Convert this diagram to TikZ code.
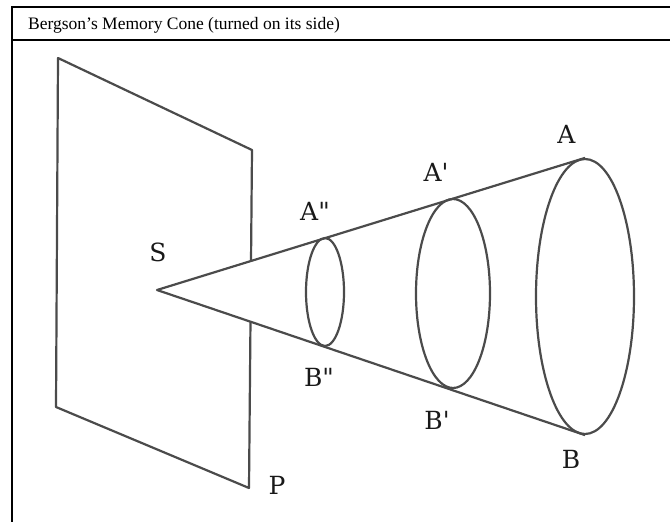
\documentclass[tikz,border=0pt]{standalone}
\usepackage{fontspec}
\setmainfont{Liberation Serif}
\newfontfamily\lblfont{DejaVu Serif}
\usetikzlibrary{shapes.geometric}
\definecolor{ink}{RGB}{75,75,75}

\begin{document}
\begin{tikzpicture}[x=1pt, y=-1pt,
    frm/.style={line width=2pt, black},
    edge/.style={line width=2.2pt, ink, line join=round},
    rim/.style={ellipse, draw=ink, line width=2.2pt, inner sep=0pt},
    lbl/.style={font=\lblfont\fontsize{25}{25}\selectfont, inner sep=0pt, text=black!90}]

    \useasboundingbox (0,0) rectangle (670,522);

    % table frame
    \coordinate (fTL) at (12,7);
    \coordinate (fTR) at (670,7);
    \coordinate (fML) at (12,40);
    \coordinate (fMR) at (670,40);
    \coordinate (fBL) at (12,522);
    \draw[frm] (fTR) -- (fTL) -- (fBL);
    \draw[frm] (fML) -- (fMR);
    \node[anchor=base west, inner sep=0pt, font=\fontsize{17.5}{17.5}\selectfont]
      (title) at (28,30) {Bergson’s Memory Cone (turned on its side)};

    % plane P and apex S
    \coordinate (pTL) at (58,58);
    \coordinate (pTR) at (252,150);
    \coordinate (pBL) at (56,407);
    \coordinate (pBR) at (249,488);
    \coordinate (S)   at (157,290);

    % cross sections of the cone
    \node[rim, minimum width=98, minimum height=275] (rimA)  at (585,296.5) {};
    \node[rim, minimum width=74, minimum height=189] (rimA1) at (453,293.5) {};
    \node[rim, minimum width=38, minimum height=108] (rimA2) at (325,292) {};

    \coordinate (gapHi) at (intersection of pTR--pBR and S--rimA.north);
    \coordinate (gapLo) at (intersection of pTR--pBR and S--rimA.south);

    \draw[edge] (gapHi) -- (pTR) -- (pTL) -- (pBL) -- (pBR) -- (gapLo);
    \draw[edge] (rimA.north) -- (S) -- (rimA.south);

    % labels
    \node[lbl] (labS)  at (158,252.5) {S};
    \node[lbl] (labP)  at (277,485) {P};
    \node[lbl] (labA)  at (566.5,134.5) {A};
    \node[lbl] (labA1) at (436,172.5) {A\textquotesingle};
    \node[lbl] (labA2) at (315,211.5) {A\textquotedbl};
    \node[lbl] (labB2) at (319,377.5) {B\textquotedbl};
    \node[lbl] (labB1) at (437,420) {B\textquotesingle};
    \node[lbl] (labB)  at (571,459) {B};
\end{tikzpicture}
\end{document}
